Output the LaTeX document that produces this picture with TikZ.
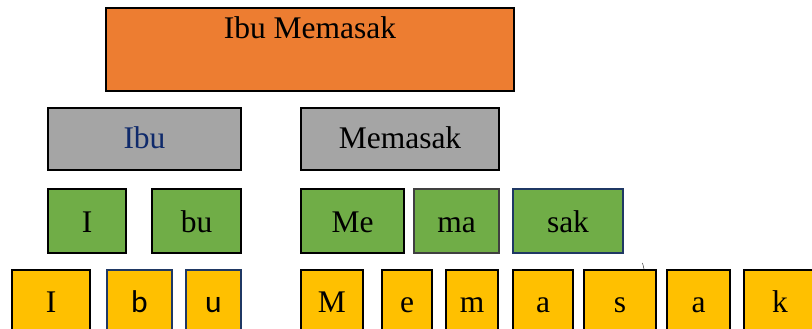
\documentclass[tikz,border=0pt]{standalone}
\usepackage{fontspec}
\setmainfont{Liberation Serif}
\newfontfamily\calibri{Carlito}
\definecolor{kalimat}{HTML}{ED7D31}
\definecolor{kata}{HTML}{A5A5A5}
\definecolor{sukukata}{HTML}{70AD47}
\definecolor{huruf}{HTML}{FFC000}
\definecolor{navy}{HTML}{1F3864}
\definecolor{tinta}{HTML}{0F2A6B}
\definecolor{abu}{HTML}{404040}

\begin{document}
\begin{tikzpicture}[x=1pt,y=-1pt,
    box/.style={draw=black,line width=2.2pt,inner sep=0pt,font=\fontsize{31.5}{36}\selectfont},
    kal/.style={box,fill=kalimat,text height=31pt,text depth=52pt},
    kat/.style={box,fill=kata,text height=40pt,text depth=22pt},
    suku/.style={box,fill=sukukata,text height=43pt,text depth=21pt},
    hur/.style={box,fill=huruf,text height=42pt,text depth=21pt}]
  \useasboundingbox (0,0) rectangle (812,329);
  \clip (0,0) rectangle (812,329);
  % kalimat
  \node[kal,minimum width=408pt] (kalimat) at (310,49.5) {Ibu Memasak};
  % kata
  \node[kat,minimum width=193pt,text=tinta] (ibu) at (144.5,139) {Ibu};
  \node[kat,minimum width=198pt] (memasak) at (400,139) {Memasak};
  % suku kata
  \node[suku,minimum width=78pt] (sI) at (87,221) {I};
  \node[suku,minimum width=89pt] (sbu) at (196.5,221) {bu};
  \node[suku,minimum width=103pt] (sMe) at (352.5,221) {Me};
  \node[suku,minimum width=85pt,draw=abu] (sma) at (456.5,221) {ma};
  \node[suku,minimum width=110pt,draw=navy] (ssak) at (568,221) {sak};
  % huruf
  \node[hur,minimum width=78pt] (hI) at (51,301.5) {I};
  \node[hur,minimum width=65pt,draw=navy] (hb) at (139.5,301.5) {\calibri b};
  \node[hur,minimum width=55pt,draw=navy] (hu) at (213.5,301.5) {\calibri u};
  \foreach \n/\cx/\w/\t in {hM/332/62/M, he/407/50/e, hm/472/52/m, ha/543/60/a,
                            hs/620/72/s, hA/698.5/63/a, hk/780/72/k}
    \node[hur,minimum width=\w pt] (\n) at (\cx,301.5) {\t};
  \draw[thin] ([xshift=22.5pt,yshift=6pt]hs.north) -- ([xshift=24pt]hs.north);
\end{tikzpicture}
\end{document}
